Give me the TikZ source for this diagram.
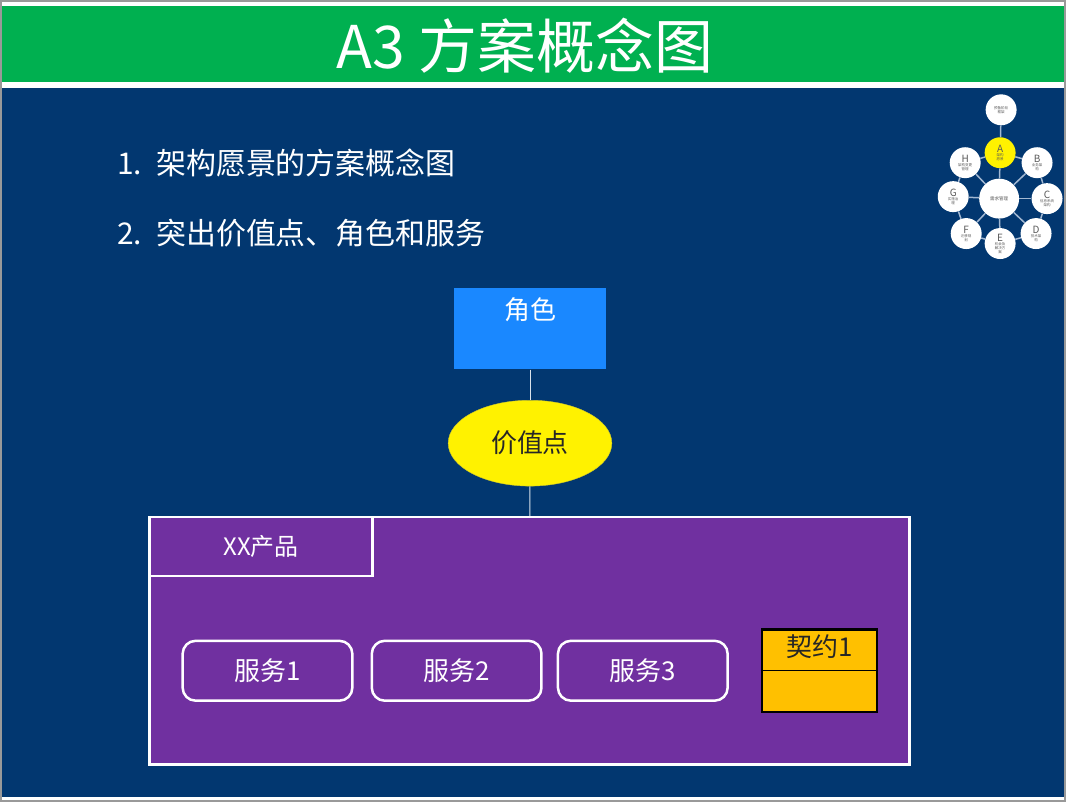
\documentclass[tikz,border=0pt]{standalone}
\usepackage{fontspec}
\setmainfont{Noto Sans CJK SC}
\usetikzlibrary{shapes.geometric,positioning}
\definecolor{slidegreen}{HTML}{00B050}
\definecolor{slidenavy}{HTML}{023770}
\definecolor{roleblue}{HTML}{1A88FF}
\definecolor{prodpurple}{HTML}{7030A0}
\definecolor{dealgold}{HTML}{FFC000}
\definecolor{admline}{HTML}{A3B8D2}

\begin{document}
\begin{tikzpicture}[x=1pt, y=-1pt,
        rolebox/.style={fill=roleblue, minimum width=152pt, minimum height=81pt, inner sep=0pt},
        valueell/.style={ellipse, draw=yellow!80!black, fill=yellow, minimum width=164pt, minimum height=86pt, inner sep=0pt, font=\fontsize{26}{30}\selectfont, text=black!85},
        prodbox/.style={draw=white, line width=2.5pt, fill=prodpurple, minimum width=761pt, minimum height=248pt, inner sep=0pt},
        tabbox/.style={draw=white, line width=2.5pt, fill=prodpurple, minimum width=223pt, minimum height=59pt, inner sep=0pt, text=white, font=\fontsize{24}{28}\selectfont},
        svcbox/.style={draw=white, line width=2.5pt, rounded corners=13pt, minimum width=170pt, minimum height=60pt, inner sep=0pt, text=white, font=\fontsize{26}{30}\selectfont},
        dealbox/.style={draw=black, line width=2.5pt, fill=dealgold, minimum width=115pt, minimum height=83pt, inner sep=0pt},
        link/.style={draw=white!85!slidenavy, line width=1pt},
        admcircle/.style={circle, fill=white, minimum size=31pt, inner sep=0pt, align=center, font=\fontsize{3.5}{4}\selectfont, text=gray!70!black},
        admlink/.style={draw=admline, line width=1.5pt},
    ]
    % background and title bar
    \fill[white] (0,0) rectangle (1066,801);
    \fill[slidegreen] (0,5) rectangle (1066,81);
    \fill[slidenavy] (0,87) rectangle (1066,797);
    \draw[gray!80, line width=2pt] (0,0) rectangle (1066,801);
    \node[text=white, font=\fontsize{59}{63}\selectfont] (title) at (525,45) {A3 方案概念图};

    % bullet points
    \node[anchor=west, text=white, font=\fontsize{30}{34}\selectfont] (pointa) at (113,162) {1.\hspace{14pt}架构愿景的方案概念图};
    \node[anchor=west, text=white, font=\fontsize{30}{34}\selectfont] (pointb) at (113,233) {2.\hspace{14pt}突出价值点、角色和服务};

    % concept diagram
    \node[rolebox, label={[anchor=north, yshift=-6pt, text=white, font=\fontsize{26}{30}\selectfont]north:角色}] (role) at (530,328.5) {};
    \node[valueell] (value) at (530,443) {价值点};
    \node[prodbox] (prod) at (529.5,641) {};
    \node[tabbox, anchor=north west] (tab) at (prod.north west) {XX产品};
    \node[svcbox] (svc1) at (267,671) {服务1};
    \node[svcbox, right=17pt of svc1] (svc2) {服务2};
    \node[svcbox, right=14pt of svc2] (svc3) {服务3};
    \node[dealbox, right=32pt of svc3, label={[anchor=north, yshift=-3pt, text=black!85, font=\fontsize{26}{30}\selectfont]north:契约1}] (deal) {};
    \draw[black, line width=1.2pt] (deal.west) -- (deal.east);

    \draw[link] (role) -- (value);
    \draw[link] (value) -- (prod);

    % ADM wheel
    \node[admcircle] (admpre) at (1002,109) {预备阶段\\框架};
    \node[admcircle, fill=yellow] (adma) at (1001,152) {{\fontsize{10}{11}\selectfont A}\\架构\\愿景};
    \foreach \nm/\px/\py/\ltr/\txt in {
            b/1038/162/B/{业务架\\构},
            c/1048/198/C/{信息系统\\架构},
            d/1037/233/D/{技术架\\构},
            e/1001/243/E/{机会及\\解决方\\案},
            f/967/233/F/{迁移规\\划},
            g/954/196/G/{实施治\\理},
            h/966/162/H/{架构变更\\管理}}
        \node[admcircle] (adm\nm) at (\px,\py) {{\fontsize{10}{11}\selectfont\ltr}\\\txt};
    \node[admcircle, minimum size=40pt, font=\fontsize{4.5}{5}\selectfont] (admmid) at (1000,198) {需求管理};
    \foreach \u/\v in {pre/a, a/b, b/c, c/d, d/e, e/f, f/g, g/h, h/a}
        \draw[admlink] (adm\u) -- (adm\v);
    \foreach \u in {a,b,c,d,e,f,g,h}
        \draw[admlink] (admmid) -- (adm\u);
\end{tikzpicture}
\end{document}
